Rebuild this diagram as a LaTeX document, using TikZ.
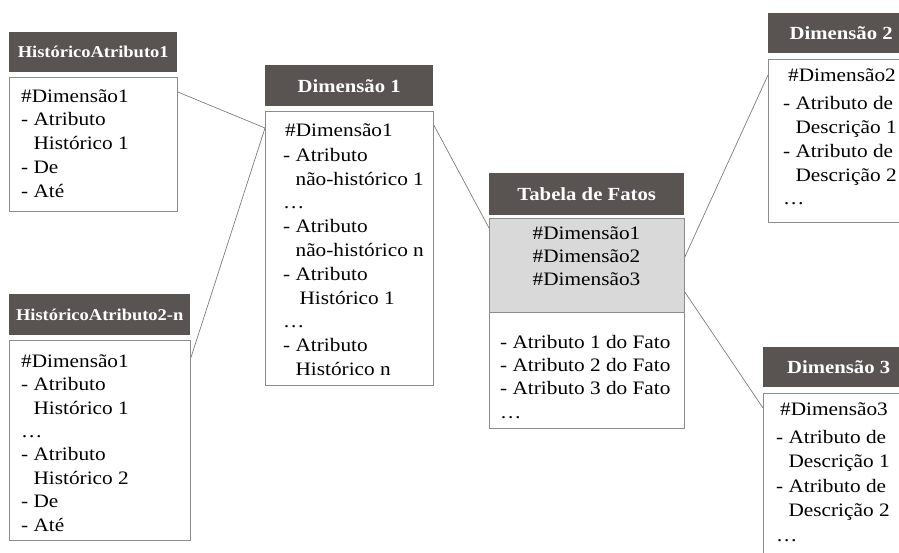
\documentclass[tikz,border=0pt]{standalone}
\usepackage{fontspec}
\setmainfont{Liberation Serif}[FakeStretch=1.12]
\definecolor{hdrfill}{RGB}{89,84,81}
\definecolor{boxline}{RGB}{140,140,140}
\definecolor{keyfill}{RGB}{217,217,217}
\definecolor{linkline}{RGB}{125,125,125}
% indent for the continuation line of a list item
\newcommand\contline{\hphantom{-}\ }
% fixed height for the first line of each list
\newcommand\firstline{\rule{0pt}{15pt}}
\tikzset{
  hdr/.style={fill=hdrfill, draw=none, text=white, anchor=north west, inner sep=0pt},
  hdrbig/.style={hdr, font=\bfseries\fontsize{18.5}{20}\selectfont},
  hdrsmall/.style={hdr, font=\bfseries\fontsize{16.5}{18}\selectfont},
  bodybox/.style={draw=boxline, line width=0.8pt, fill=white, anchor=north west, inner sep=0pt},
  keybox/.style={bodybox, fill=keyfill},
  txt/.style={anchor=north west, inner sep=0pt, align=left},
  link/.style={draw=linkline, line width=0.7pt}
}
\begin{document}
\begin{tikzpicture}[x=1pt,y=-1pt]
\useasboundingbox (0,0) rectangle (899,552);
\clip (0,0) rectangle (899,552);
\fill[white] (0,0) rectangle (899,552);

% HistóricoAtributo1
\node[hdrsmall, minimum width=168pt, minimum height=40pt] (h1h) at (9,32) {HistóricoAtributo1};
\node[bodybox, minimum width=168pt, minimum height=134pt] (h1b) at (9,77) {};
\node[txt, font=\fontsize{19}{23.75}\selectfont] (h1t) at (21,87)
  {\firstline\#Dimensão1\\- Atributo\\\contline Histórico 1\\- De\\- Até};

% HistóricoAtributo2-n
\node[hdrsmall, minimum width=181pt, minimum height=41pt] (h2h) at (9,294) {HistóricoAtributo2-n};
\node[bodybox, minimum width=181pt, minimum height=200pt] (h2b) at (9,340) {};
\node[txt, font=\fontsize{19}{23.4}\selectfont] (h2t) at (21,352)
  {\firstline\#Dimensão1\\- Atributo\\\contline Histórico 1\\\dots\\- Atributo\\\contline Histórico 2\\- De\\- Até};

% Dimensão 1
\node[hdrbig, minimum width=168pt, minimum height=41pt] (d1h) at (265,65) {Dimensão 1};
\node[bodybox, minimum width=168pt, minimum height=274pt] (d1b) at (265,111) {};
\node[txt, font=\fontsize{19}{23.8}\selectfont] (d1t) at (283,121)
  {\firstline\hspace{2pt}\#Dimensão1\\[1.2pt]- Atributo\\\contline não-histórico 1\\\dots\\- Atributo\\\contline não-histórico n\\- Atributo\\\contline\hspace{4pt}Histórico 1\\\dots\\- Atributo\\\contline Histórico n};

% Tabela de Fatos
\node[hdrbig, minimum width=195pt, minimum height=42pt] (tfh) at (489,173) {Tabela de Fatos};
\node[keybox, minimum width=195pt, minimum height=94pt] (tfk) at (489,218) {};
\node[bodybox, minimum width=195pt, minimum height=116pt] (tfa) at (489,312) {};
\node[anchor=north, inner sep=0pt, align=center, font=\fontsize{19}{23.3}\selectfont] (tfkt) at (586.5,224)
  {\firstline\#Dimensão1\\\#Dimensão2\\\#Dimensão3};
\node[txt, font=\fontsize{19}{23.3}\selectfont] (tfat) at (500,333)
  {\firstline- Atributo 1 do Fato\\- Atributo 2 do Fato\\- Atributo 3 do Fato\\\dots};

% Dimensão 2
\node[hdrbig, minimum width=146pt, minimum height=40pt] (d2h) at (768,13) {Dimensão 2};
\node[bodybox, minimum width=146pt, minimum height=163pt] (d2b) at (768,59) {};
\node[txt, font=\fontsize{19}{23.75}\selectfont] (d2t) at (783,66)
  {\firstline\hspace{5pt}\#Dimensão2\\[5pt]- Atributo de\\\contline Descrição 1\\- Atributo de\\\contline Descrição 2\\\dots};

% Dimensão 3
\node[hdrbig, minimum width=151pt, minimum height=40pt] (d3h) at (763,347) {Dimensão 3};
\node[bodybox, minimum width=151pt, minimum height=170pt] (d3b) at (763,393) {};
\node[txt, font=\fontsize{19}{24.5}\selectfont] (d3t) at (776,400)
  {\firstline\hspace{4pt}\#Dimensão3\\[3.5pt]- Atributo de\\\contline Descrição 1\\- Atributo de\\\contline Descrição 2\\\dots};

% relationships
\draw[link] ([yshift=-15pt]h1b.north east) -- ([yshift=-17pt]d1b.north west);
\draw[link] ([yshift=-18pt]h2b.north east) -- ([yshift=-17pt]d1b.north west);
\draw[link] ([yshift=-14pt]d1b.north east) -- ([yshift=-10pt]tfk.north west);
\draw[link] ([yshift=-39pt]tfk.north east) -- ([yshift=-16pt]d2b.north west);
\draw[link] ([yshift=-74pt]tfk.north east) -- ([yshift=-15pt]d3b.north west);
\end{tikzpicture}
\end{document}
